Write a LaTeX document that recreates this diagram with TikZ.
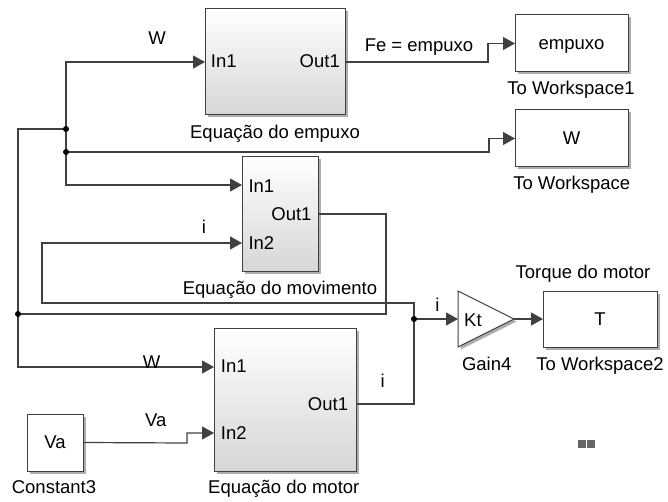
\documentclass[tikz,border=0pt]{standalone}
\usepackage{fontspec}
\setmainfont{Liberation Sans}
\usetikzlibrary{positioning, arrows.meta, calc, shadows, shapes.geometric}

\begin{document}
\begin{tikzpicture}[
    x=1pt, y=-1pt,
    font=\fontsize{18.5}{21}\selectfont,
    blk/.style={draw=black!75, line width=1pt, fill=white, inner sep=0pt, outer sep=0pt,
        text height=12pt, text depth=0pt,
        drop shadow={shadow xshift=2.5pt, shadow yshift=-2.5pt, fill=black!45, opacity=.7}},
    subsys/.style={blk, top color=white, bottom color=black!16},
    wire/.style={draw=black!75, line width=1.2pt},
    sig/.style={wire, -{Triangle[length=12pt, width=13pt]}},
    lbl/.style={inner sep=0pt, anchor=base},
]

\useasboundingbox (0,0) rectangle (668,502);

% Subsystems
\node[subsys, minimum width=140pt, minimum height=106pt] (empuxo) at (275,62) {};
\node[subsys, minimum width=76pt, minimum height=114pt]  (movim)  at (280,214) {};
\node[subsys, minimum width=142pt, minimum height=143pt] (motor)  at (285,399.5) {};

% Sources, gain and sinks
\node[blk, minimum width=113pt, minimum height=57pt] (wsE)   at (571.5,43.5)  {empuxo};
\node[blk, minimum width=113pt, minimum height=57pt] (wsW)   at (571.5,138.5) {W};
\node[blk, minimum width=114pt, minimum height=56pt] (wsT)   at (600,319)     {T};
\node[blk, minimum width=56pt, minimum height=57pt]  (const) at (55,442.5)    {Va};
\node[blk, isosceles triangle, isosceles triangle stretches,
      minimum width=56pt, minimum height=56pt, anchor=lower side] (gain) at (458,319) {};
\node[lbl, anchor=base west] (kt) at (464,326) {Kt};

% Ports
\coordinate (movIn1) at (movim.west |- 0,185);
\coordinate (movIn2) at (movim.west |- 0,243);
\coordinate (motIn1) at (motor.west |- 0,367);
\coordinate (motIn2) at (motor.west |- 0,433);
\coordinate (motOut) at (motor.east |- 0,404);

\node[lbl, anchor=base west] (eIn1)  at (210.7,68)  {In1};
\node[lbl, anchor=base east] (eOut1) at (340,68)    {Out1};
\node[lbl, anchor=base west] (vIn1)  at (248.3,192.7) {In1};
\node[lbl, anchor=base east] (vOut1) at (311.7,221)   {Out1};
\node[lbl, anchor=base west] (vIn2)  at (248.3,250)   {In2};
\node[lbl, anchor=base west] (mIn1)  at (220.7,372.7) {In1};
\node[lbl, anchor=base east] (mOut1) at (348.3,410.7) {Out1};
\node[lbl, anchor=base west] (mIn2)  at (220.7,439.3) {In2};

% Block names
\node[lbl] (nEmp)   at (275,139)     {Equação do empuxo};
\node[lbl] (nMov)   at (280,294.3)   {Equação do movimento};
\node[lbl] (nMot)   at (283.8,493.3) {Equação do motor};
\node[lbl] (nConst) at (54,493.3)    {Constant3};
\node[lbl] (nGain)  at (486.7,370.7) {Gain4};
\node[lbl] (nWsE)   at (571,95)      {To Workspace1};
\node[lbl] (nWsW)   at (571.7,189.3) {To Workspace};
\node[lbl] (nWsT)   at (600,370.7)   {To Workspace2};
\node[lbl] (nTorq)  at (583,278.3)   {Torque do motor};

% Junctions
\coordinate (jA) at (18,314);
\coordinate (jB) at (66,129);
\coordinate (jC) at (66,152);
\coordinate (jD) at (414,319);

% W feedback
\draw[wire] (movim.east) -- (386,214) |- (jA);
\draw[wire] (jA) |- (jB);
\draw[sig]  (jA) |- (motIn1);
\draw[sig]  (jB) |- (empuxo.west);
\draw[sig]  (jB) |- (movIn1);
\draw[sig]  (jC) -- (489,152) |- (wsW.west);
\draw[sig]  (empuxo.east) -- (488,62) |- (wsE.west);

% i feedback
\draw[sig]  (motOut) -| (414,303) -| (42,243) -- (movIn2);
\draw[sig]  (jD) -- (gain.lower side);
\draw[sig]  (gain.apex) -- (wsT.west);
\draw[sig]  (const.east) -- (187,443) |- (motIn2);

\foreach \j in {jA,jB,jC,jD}
    \fill[black] (\j) circle (3pt);

% Signal labels
\node[lbl] (sW1) at (157,45)      {W};
\node[lbl] (sFe) at (419,52)      {Fe = empuxo};
\node[lbl] (sI1) at (204,234)     {i};
\node[lbl] (sI2) at (437.3,311.7) {i};
\node[lbl] (sW2) at (151.7,368)   {W};
\node[lbl] (sI3) at (382.7,387.3) {i};
\node[lbl] (sVa) at (155.7,426)   {Va};

% Resize glyph
\fill[black!60] (578,440) rectangle (586,448);
\fill[black!60] (587,440) rectangle (595,448);

\end{tikzpicture}
\end{document}
